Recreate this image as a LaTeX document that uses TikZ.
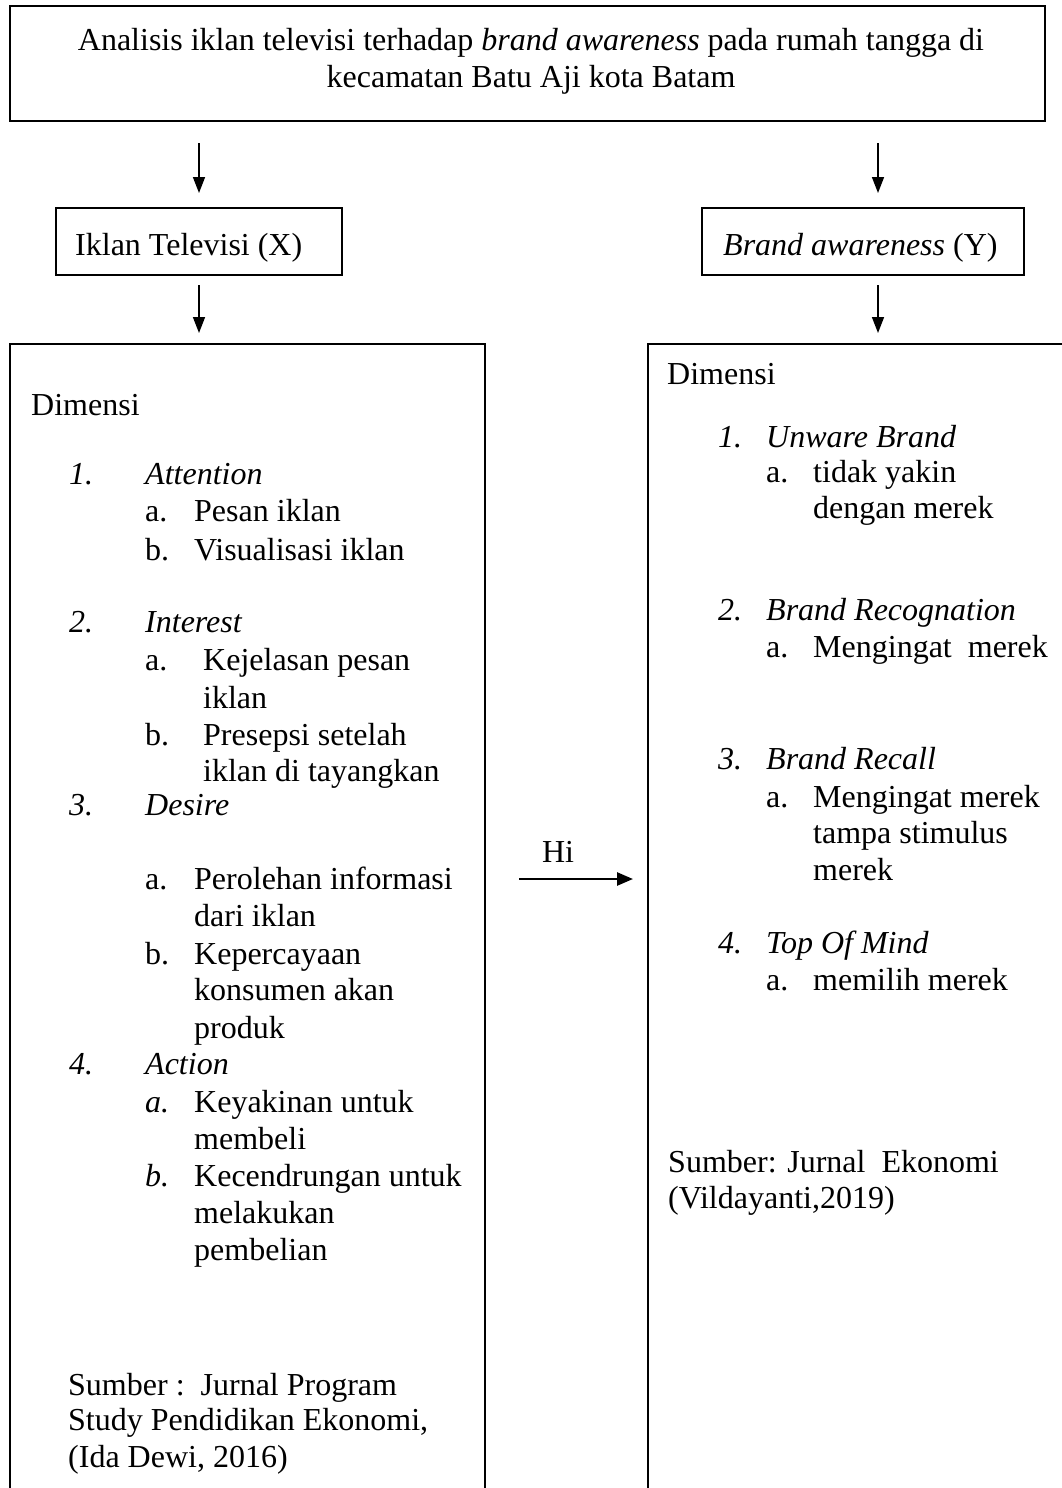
\documentclass[tikz,border=0pt]{standalone}
\usepackage{fontspec}
\setmainfont{Liberation Serif}
\usetikzlibrary{arrows.meta}
\newcommand\tx[4]{\node[txt] (#1) at (#2,#3) {#4};}
\begin{document}
\begin{tikzpicture}[x=1pt,y=-1pt,
  box/.style={draw, line width=1.8pt, inner sep=0pt, outer sep=0pt, anchor=north west},
  txt/.style={anchor=base west, inner sep=0pt, font=\fontsize{32}{37}\selectfont},
  ctxt/.style={txt, anchor=base},
  arr/.style={line width=1.6pt, -{Triangle[length=16pt,width=12pt]}},
  hiarr/.style={line width=2.6pt, -{Triangle[length=16pt,width=13pt]}},
]
\useasboundingbox (0,0) rectangle (1062,1488);
\clip (0,0) rectangle (1062,1488);

% boxes
\node[box, minimum width=1035pt, minimum height=115pt] (title) at (10,6) {};
\node[box, minimum width=286pt, minimum height=67pt] (xbox) at (56,208) {};
\node[box, minimum width=322pt, minimum height=67pt] (ybox) at (702,208) {};
\node[box, minimum width=475pt, minimum height=1170pt] (xdim) at (10,344) {};
\node[box, minimum width=440pt, minimum height=1170pt] (ydim) at (648,344) {};

% title text
\node[ctxt] (t1) at (531,51) {Analisis iklan televisi terhadap \textit{brand awareness} pada rumah tangga di};
\node[ctxt] (t2) at (531,88) {kecamatan Batu Aji kota Batam};

\tx{xlab}{75}{255}{Iklan Televisi (X)}
\tx{ylab}{723}{255}{\textit{Brand awareness} (Y)}

% arrows
\coordinate (rx) at (878,0);
\draw[arr, shorten <=22pt, shorten >=15pt] (title.south -| xbox.north) -- (xbox.north);
\draw[arr, shorten <=22pt, shorten >=15pt] (title.south -| rx) -- (ybox.north -| rx);
\draw[arr, shorten <=10pt, shorten >=11pt] (xbox.south) -- (xbox.south |- xdim.north);
\draw[arr, shorten <=10pt, shorten >=11pt] (ybox.south -| rx) -- (ydim.north -| rx);

\coordinate (hy) at (0,879);
\draw[hiarr, shorten <=34pt, shorten >=15pt] (xdim.east |- hy) -- (ydim.west |- hy);
\node[ctxt] (hi) at (558,862) {Hi};

% left box
\tx{ld}{31}{415}{Dimensi}
\tx{l1n}{69}{484}{\textit{1.}}
\tx{l1}{145}{484}{\textit{Attention}}
\tx{l1an}{145}{521}{a.}
\tx{l1a}{194}{521}{Pesan iklan}
\tx{l1bn}{145}{560}{b.}
\tx{l1b}{194}{560}{Visualisasi iklan}
\tx{l2n}{69}{632}{\textit{2.}}
\tx{l2}{145}{632}{\textit{Interest}}
\tx{l2an}{145}{670}{a.}
\tx{l2a}{203}{670}{Kejelasan pesan}
\tx{l2a2}{203}{708}{iklan}
\tx{l2bn}{145}{745}{b.}
\tx{l2b}{203}{745}{Presepsi setelah}
\tx{l2b2}{203}{781}{iklan di tayangkan}
\tx{l3n}{69}{815}{\textit{3.}}
\tx{l3}{145}{815}{\textit{Desire}}
\tx{l3an}{145}{889}{a.}
\tx{l3a}{194}{889}{Perolehan informasi}
\tx{l3a2}{194}{926}{dari iklan}
\tx{l3bn}{145}{964}{b.}
\tx{l3b}{194}{964}{Kepercayaan}
\tx{l3b2}{194}{1000}{konsumen akan}
\tx{l3b3}{194}{1038}{produk}
\tx{l4n}{69}{1074}{\textit{4.}}
\tx{l4}{145}{1074}{\textit{Action}}
\tx{l4an}{145}{1112}{\textit{a.}}
\tx{l4a}{194}{1112}{Keyakinan untuk}
\tx{l4a2}{194}{1149}{membeli}
\tx{l4bn}{145}{1186}{\textit{b.}}
\tx{l4b}{194}{1186}{Kecendrungan untuk}
\tx{l4b2}{194}{1223}{melakukan}
\tx{l4b3}{194}{1260}{pembelian}
\tx{ls1}{68}{1395}{Sumber :\ \ Jurnal Program}
\tx{ls2}{68}{1430}{Study Pendidikan Ekonomi,}
\tx{ls3}{68}{1467}{(Ida Dewi, 2016)}

% right box
\tx{rd}{667}{384}{Dimensi}
\tx{r1n}{718}{447}{\textit{1.}}
\tx{r1}{766}{447}{\textit{Unware Brand}}
\tx{r1an}{766}{482}{a.}
\tx{r1a}{813}{482}{tidak yakin}
\tx{r1a2}{813}{518}{dengan merek}
\tx{r2n}{718}{620}{\textit{2.}}
\tx{r2}{766}{620}{\textit{Brand Recognation}}
\tx{r2an}{766}{657}{a.}
\tx{r2a}{813}{657}{Mengingat\ \ merek}
\tx{r3n}{718}{769}{\textit{3.}}
\tx{r3}{766}{769}{\textit{Brand Recall}}
\tx{r3an}{766}{807}{a.}
\tx{r3a}{813}{807}{Mengingat merek}
\tx{r3a2}{813}{843}{tampa stimulus}
\tx{r3a3}{813}{880}{merek}
\tx{r4n}{718}{953}{\textit{4.}}
\tx{r4}{766}{953}{\textit{Top Of Mind}}
\tx{r4an}{766}{990}{a.}
\tx{r4a}{813}{990}{memilih merek}
\tx{rs1}{668}{1172}{Sumber: Jurnal\ \ Ekonomi}
\tx{rs2}{668}{1208}{(Vildayanti,2019)}
\end{tikzpicture}
\end{document}
